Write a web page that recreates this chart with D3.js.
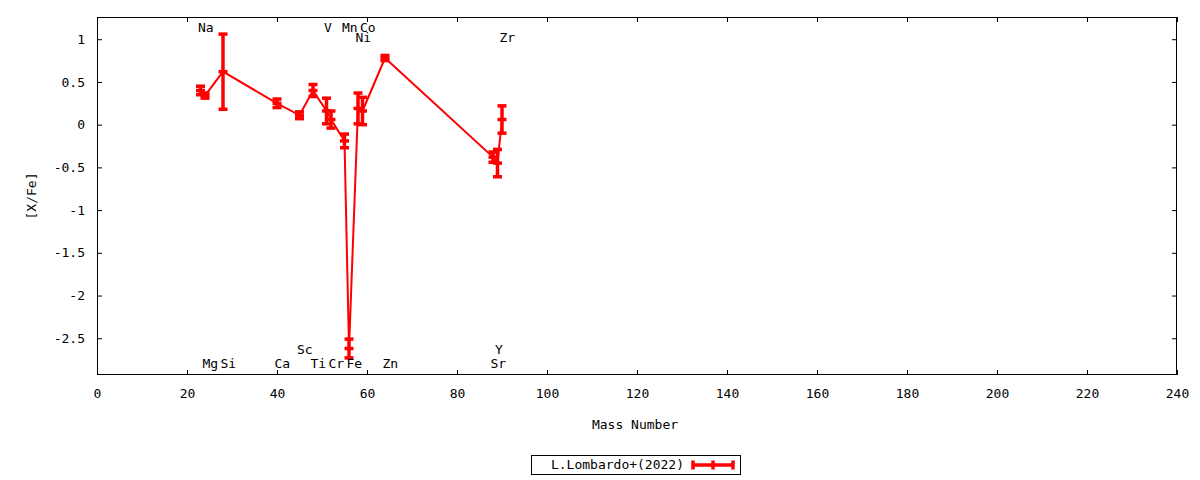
<!DOCTYPE html>
<html><head><meta charset="utf-8">
<script src="https://cdn.jsdelivr.net/npm/d3@7"></script>
<style>
body{margin:0;background:#fff;}
text{font-family:"DejaVu Sans Mono",monospace;font-size:13px;fill:#000;}
</style></head>
<body><svg id="c" width="1200" height="480"></svg>
<script>
const elements = ["Na","Mg","Si","Ca","Sc","Ti","V","Cr","Mn","Fe","Ni","Co","Zn","Sr","Y","Zr"];
const massNumbers = [23,24,28,40,45,48,51,52,55,56,58,59,64,88,89,90];
const xfeValues = [0.40,0.34,0.62,0.25,0.11,0.40,0.16,0.06,-0.19,-2.62,0.19,0.16,0.78,-0.38,-0.45,0.06];
const xfeErrors = [0.05,0.03,0.44,0.05,0.04,0.07,0.15,0.10,0.08,0.11,0.18,0.16,0.03,0.06,0.16,0.16];
const labelRows = ["top1","bot1","bot1","bot1","bot2","bot1","top1","bot1","top1","bot1","top2","top1","bot1","bot1","bot2","top2"];
const xTicks = [0,20,40,60,80,100,120,140,160,180,200,220,240];
const yTicks = [1,0.5,0,-0.5,-1,-1.5,-2,-2.5];
const seriesName = "L.Lombardo+(2022)";

const L=97,R=1177,T=17,B=375;
const svg=d3.select("#c");
const x=d3.scaleLinear().domain([0,240]).range([L,R]);
const y=d3.scaleLinear().domain([-2.93,1.26]).range([B,T]);
const red="#ff0000";

svg.append("rect").attr("x",L+0.5).attr("y",T+0.5).attr("width",R-L-1).attr("height",B-T-1)
  .attr("fill","none").attr("stroke","#000").attr("stroke-width",1);

const axB=svg.append("g").attr("transform",`translate(0,${B})`)
  .call(d3.axisBottom(x).tickValues(xTicks).tickSizeInner(-5).tickSizeOuter(0).tickPadding(14));
const axT=svg.append("g").attr("transform",`translate(0,${T})`)
  .call(d3.axisTop(x).tickValues(xTicks).tickSizeInner(-5).tickSizeOuter(0).tickFormat(""));
const axL=svg.append("g").attr("transform",`translate(${L},0)`)
  .call(d3.axisLeft(y).tickValues(yTicks).tickSizeInner(-5).tickSizeOuter(0).tickPadding(12).tickFormat(d=>String(d)));
const axR=svg.append("g").attr("transform",`translate(${R},0)`)
  .call(d3.axisRight(y).tickValues(yTicks).tickSizeInner(-5).tickSizeOuter(0).tickFormat(""));
[axB,axT,axL,axR].forEach(g=>{g.select(".domain").remove();g.selectAll("text").attr("font-family",null).attr("font-size",null).attr("fill","#000");g.selectAll("line").attr("stroke","#000");});

svg.append("text").attr("x",x(120)-2).attr("y",429).attr("text-anchor","middle").text("Mass Number");
svg.append("text").attr("transform",`translate(36,${(T+B)/2}) rotate(-90)`).attr("text-anchor","middle").text("[X/Fe]");

const data=elements.map((e,i)=>({e,a:massNumbers[i],v:xfeValues[i],err:xfeErrors[i],row:labelRows[i]}));

svg.append("path").datum(data).attr("fill","none").attr("stroke",red).attr("stroke-width",2)
  .attr("d",d3.line().x(d=>x(d.a)).y(d=>y(d.v)));

const eg=svg.append("g").attr("stroke",red).attr("stroke-width",3.5);
data.forEach(d=>{
  const cx=x(d.a);
  eg.append("line").attr("x1",cx).attr("x2",cx).attr("y1",y(d.v+d.err)).attr("y2",y(d.v-d.err));
  eg.append("line").attr("x1",cx-4.5).attr("x2",cx+4.5).attr("y1",y(d.v+d.err)).attr("y2",y(d.v+d.err));
  eg.append("line").attr("x1",cx-4.5).attr("x2",cx+4.5).attr("y1",y(d.v-d.err)).attr("y2",y(d.v-d.err));
  eg.append("line").attr("x1",cx-4.5).attr("x2",cx+4.5).attr("y1",y(d.v)).attr("y2",y(d.v));
});

const rowY={top1:32,top2:42,bot1:368,bot2:354};
svg.append("g").selectAll("text").data(data).join("text")
  .attr("x",d=>x(d.a)-2.5).attr("y",d=>rowY[d.row]).attr("text-anchor","start").text(d=>d.e);

svg.append("rect").attr("x",531.5).attr("y",455.5).attr("width",209).attr("height",19)
  .attr("fill","none").attr("stroke","#000");
svg.append("text").attr("x",684).attr("y",469).attr("text-anchor","end").text(seriesName);
const lg=svg.append("g").attr("stroke",red).attr("stroke-width",3.5);
lg.append("line").attr("x1",693).attr("x2",733).attr("y1",465).attr("y2",465);
[693,713,733].forEach(px=>lg.append("line").attr("x1",px).attr("x2",px).attr("y1",460.5).attr("y2",469.5));
</script></body></html>
